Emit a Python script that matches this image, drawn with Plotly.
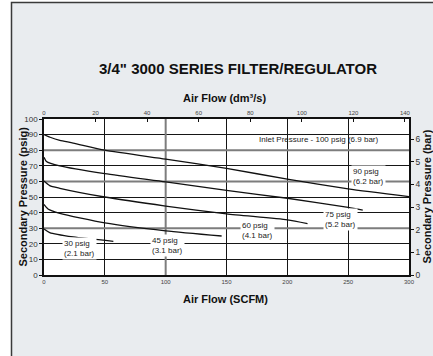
import plotly.graph_objects as go

# Flow in SCFM, secondary pressure in psig, one curve per set pressure
scfm_90 = [0, 5, 13, 24, 50, 100, 150, 200, 250, 300]
psig_90 = [90, 88.3, 86.3, 84.6, 80, 74.3, 68.4, 61.4, 55.2, 50.2]

scfm_75 = [0, 2, 13, 50, 100, 150, 200, 250, 262]
psig_75 = [75.5, 72.8, 70, 65, 59.7, 54.2, 49.2, 43.3, 41.6]

scfm_60 = [0, 4.7, 13, 50, 100, 150, 200, 216.6]
psig_60 = [60.3, 57.3, 55.6, 50, 44.2, 39.2, 35.4, 33]

scfm_45 = [0, 3.3, 13, 50, 100, 146]
psig_45 = [45.2, 42.3, 39.5, 33.4, 28.3, 25]

scfm_30 = [0, 4.7, 24, 57]
psig_30 = [29.5, 27.2, 24.4, 21.6]

# Curve labels: text and anchor (SCFM, psig)
label_texts = ["90 psig<br>(6.2 bar)", "75 psig<br>(5.2 bar)", "60 psig<br>(4.1 bar)",
               "45 psig<br>(3.1 bar)", "30 psig<br>(2.1 bar)"]
label_x = [266.8, 243.9, 175.8, 101.6, 29.4]
label_y = [63.1, 35.9, 28.7, 18.7, 16.8]

inlet_text = "Inlet Pressure - 100 psig (6.9 bar)"
inlet_x, inlet_y = 225.7, 86.8

# Axis ticks
scfm_ticks = [0, 50, 100, 150, 200, 250, 300]
dm3s_ticks = [0, 20, 40, 60, 80, 100, 120, 140]
psig_ticks = [0, 10, 20, 30, 40, 50, 60, 70, 80, 90, 100]
bar_ticks = [0, 1, 2, 3, 4, 5, 6]

DM3S_PER_SCFM = 0.4719
PSI_PER_BAR = 14.5038
SCFM_MAX, PSIG_MAX = 300, 100

FONT = "Arial, Liberation Sans, sans-serif"
INK = "#111111"
PANEL = "#e9ecef"

fig = go.Figure()

for xs, ys in [(scfm_90, psig_90), (scfm_75, psig_75), (scfm_60, psig_60),
               (scfm_45, psig_45), (scfm_30, psig_30)]:
    fig.add_trace(go.Scatter(
        x=xs, y=ys, mode="lines",
        line=dict(color=INK, width=1.3, shape="spline", smoothing=0.6),
        hoverinfo="skip", showlegend=False))

# empty trace so the secondary (dm3/s, bar) axes are drawn
fig.add_trace(go.Scatter(x=[], y=[], xaxis="x2", yaxis="y2", showlegend=False))

annotations = []
for t, x, y in zip(label_texts, label_x, label_y):
    annotations.append(dict(
        x=x, y=y, xref="x", yref="y", text=t, showarrow=False, align="left",
        bgcolor="white", borderpad=1,
        font=dict(family=FONT, size=8, color="#222")))
annotations.append(dict(
    x=inlet_x, y=inlet_y, xref="x", yref="y", text=inlet_text, showarrow=False,
    font=dict(family=FONT, size=8, color="#222")))

def px_x(p):
    return (p - 44) / 365.0

def px_y(p):
    return (275 - p) / 156.0

titles = [
    ("3/4\" 3000 SERIES FILTER/REGULATOR", 238, 68, 15, 0),
    ("Air Flow (dm³/s)", 224, 97.5, 11, 0),
    ("Air Flow (SCFM)", 225, 299, 11, 0),
    ("Secondary Pressure (psig)", 22.5, 197, 11, -90),
    ("Secondary Pressure (bar)", 426.5, 197, 11, -90),
]
for t, x, y, s, ang in titles:
    annotations.append(dict(
        x=px_x(x), y=px_y(y), xref="paper", yref="paper", text="<b>%s</b>" % t,
        showarrow=False, textangle=ang, xanchor="center", yanchor="middle",
        font=dict(family=FONT, size=s, color=INK)))

shapes = []
# heavier grey grid lines
for gy in [80, 60, 30]:
    shapes.append(dict(type="line", xref="x", yref="y", x0=0, x1=SCFM_MAX, y0=gy, y1=gy,
                       line=dict(color="#7d7d7d", width=2), layer="between"))
for gx in [100]:
    shapes.append(dict(type="line", xref="x", yref="y", x0=gx, x1=gx, y0=0, y1=PSIG_MAX,
                       line=dict(color="#7d7d7d", width=2), layer="between"))
# page outside the panel and the panel border
shapes.append(dict(type="rect", xref="paper", yref="paper",
                   x0=px_x(-5), x1=px_x(11), y0=px_y(400), y1=px_y(-5),
                   fillcolor="white", line=dict(width=0), layer="below"))
shapes.append(dict(type="rect", xref="paper", yref="paper",
                   x0=px_x(-5), x1=px_x(450), y0=px_y(2), y1=px_y(-5),
                   fillcolor="white", line=dict(width=0), layer="below"))
shapes.append(dict(type="rect", xref="paper", yref="paper",
                   x0=px_x(11.5), x1=px_x(450), y0=px_y(400), y1=px_y(2.5),
                   fillcolor="rgba(0,0,0,0)", line=dict(color="#3a3a3a", width=1.5),
                   layer="below"))

axis_common = dict(showline=True, linecolor=INK, linewidth=1.5, zeroline=False,
                   tickcolor=INK, tickwidth=1)

fig.update_layout(
    width=433, height=356,
    margin=dict(l=44, r=24, t=119, b=81),
    paper_bgcolor=PANEL, plot_bgcolor="white",
    font=dict(family=FONT, color="#333"),
    xaxis=dict(range=[0, SCFM_MAX], tickvals=scfm_ticks, ticks="", mirror=True,
               showgrid=True, gridcolor="#161616", gridwidth=1.3,
               tickfont=dict(size=6, color="#444"), **axis_common),
    xaxis2=dict(range=[0, SCFM_MAX * DM3S_PER_SCFM], tickvals=dm3s_ticks,
                overlaying="x", side="top", anchor="y", ticks="inside", ticklen=3,
                showgrid=False, tickfont=dict(size=6, color="#444"), **axis_common),
    yaxis=dict(range=[0, PSIG_MAX], tickvals=psig_ticks, ticks="outside", ticklen=3,
               mirror=True, showgrid=True, gridcolor="#161616", gridwidth=1.3,
               tickfont=dict(size=8, color="#333"), **axis_common),
    yaxis2=dict(range=[0, PSIG_MAX / PSI_PER_BAR], tickvals=bar_ticks,
                overlaying="y", side="right", anchor="x", ticks="outside", ticklen=3,
                showgrid=False, tickfont=dict(size=8.5, color="#333"), **axis_common),
    annotations=annotations,
    shapes=shapes,
)

fig.write_html("out.html")
